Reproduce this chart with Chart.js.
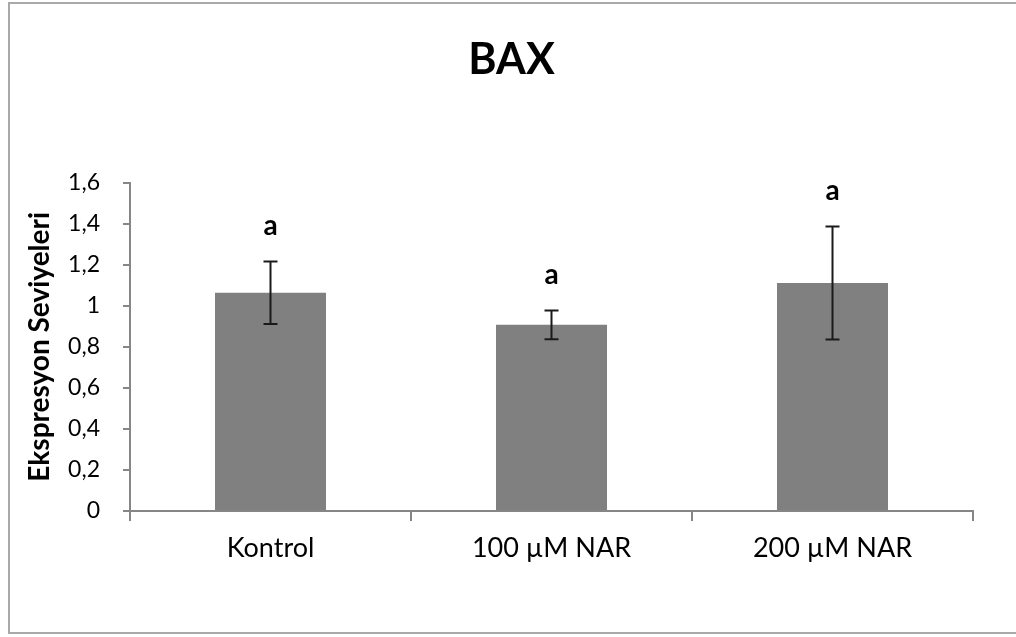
<!DOCTYPE html>
<html>
<head>
<meta charset="utf-8">
<script src="https://cdn.jsdelivr.net/npm/chart.js@4/dist/chart.umd.min.js"></script>
<style>
  body { margin: 0; background: #fff; }
  canvas { display: block; }
</style>
</head>
<body>
<canvas id="barChart" width="1016" height="637"></canvas>
<script>
// BAX expression chart
const labels = ['Kontrol', '100 µM NAR', '200 µM NAR'];
const means = [1.063, 0.907, 1.111];
const errors = [0.152, 0.07, 0.275];
const letters = ['a', 'a', 'a'];

const axisGray = '#868686';

// error bars + group letters, drawn over the bars
const errorBars = {
  id: 'errorBars',
  afterDatasetsDraw(chart) {
    const ctx = chart.ctx;
    const y = chart.scales.y;
    const meta = chart.getDatasetMeta(0);
    ctx.save();
    ctx.strokeStyle = '#1a1a1a';
    ctx.lineWidth = 2;
    meta.data.forEach(function(bar, i) {
      const top = y.getPixelForValue(means[i] + errors[i]);
      const bottom = y.getPixelForValue(means[i] - errors[i]);
      ctx.beginPath();
      ctx.moveTo(bar.x, top);
      ctx.lineTo(bar.x, bottom);
      ctx.moveTo(bar.x - 7, top);
      ctx.lineTo(bar.x + 7, top);
      ctx.moveTo(bar.x - 7, bottom);
      ctx.lineTo(bar.x + 7, bottom);
      ctx.stroke();

      ctx.fillStyle = '#000';
      ctx.font = 'bold 28px Lato';
      ctx.textAlign = 'center';
      ctx.textBaseline = 'middle';
      ctx.fillText(letters[i], bar.x, top - 36);
    });
    ctx.restore();
  }
};

// grey frame round the whole chart
const frame = {
  id: 'frame',
  beforeDraw(chart) {
    const ctx = chart.ctx;
    ctx.save();
    ctx.fillStyle = '#fff';
    ctx.fillRect(0, 0, chart.width, chart.height);
    ctx.strokeStyle = '#a9a9a9';
    ctx.lineWidth = 2;
    ctx.strokeRect(9, 3, chart.width + 10, 630);
    ctx.restore();
  }
};

const data = {
  labels: labels,
  datasets: [{
    data: means,
    backgroundColor: '#808080',
    borderWidth: 0,
    categoryPercentage: 1,
    barPercentage: 0.395,
  }]
};

const config = {
  type: 'bar',
  data: data,
  plugins: [frame, errorBars],
  options: {
    responsive: false,
    animation: false,
    layout: {
      // left padding shifts the title centre to the right like the original
      padding: { left: 50, right: 43, top: 0, bottom: 0 }
    },
    plugins: {
      legend: { display: false },
      tooltip: { enabled: false },
      title: {
        display: true,
        text: 'BAX',
        color: '#000',
        font: { family: 'Lato', size: 43, weight: 'bold' },
        padding: { top: 34, bottom: 97 }
      }
    },
    scales: {
      x: {
        afterFit: function(scale) { scale.height = 126; },
        grid: {
          drawOnChartArea: false,
          drawTicks: true,
          tickLength: 10,
          color: axisGray,
          lineWidth: 2
        },
        border: { display: true, color: axisGray, width: 2 },
        ticks: {
          color: '#000',
          padding: 11,
          font: { family: 'Lato', size: 27 }
        }
      },
      y: {
        min: 0,
        max: 1.6,
        afterFit: function(scale) { scale.width = 80; },
        grid: {
          drawOnChartArea: false,
          drawTicks: true,
          tickLength: 7,
          color: axisGray,
          lineWidth: 2
        },
        border: { display: true, color: axisGray, width: 2 },
        ticks: {
          stepSize: 0.2,
          padding: 23,
          color: '#000',
          font: { family: 'Lato', size: 23 },
          callback: function(value) {
            return String(Math.round(value * 10) / 10).replace('.', ',');
          }
        },
        title: {
          display: true,
          text: 'Ekspresyon Seviyeleri',
          color: '#000',
          font: { family: 'Lato', size: 28, weight: 'bold' },
          padding: { top: -27, bottom: 0 }
        }
      }
    }
  }
};

var barChart = document.getElementById('barChart');
const myBarChart = new Chart(barChart, config);
</script>
</body>
</html>
